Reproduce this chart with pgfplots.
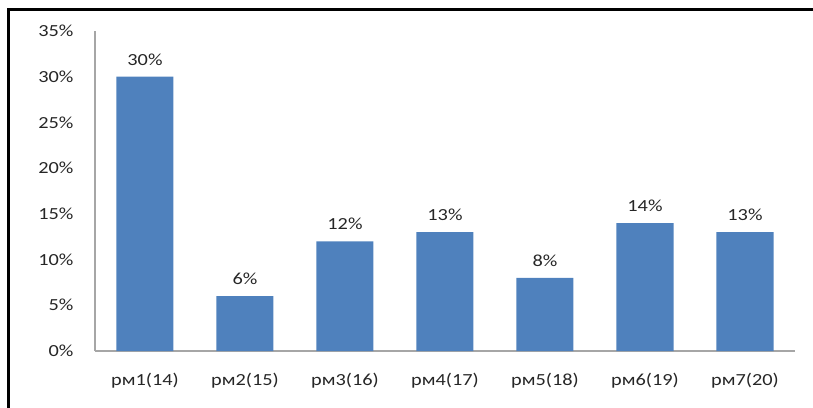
\documentclass[border=0pt]{standalone}
\usepackage{fontspec}
\setmainfont{Carlito}[FakeStretch=1.2]
\usepackage{pgfplots}
\pgfplotsset{compat=1.18}
\definecolor{barblue}{HTML}{4F81BD}
\definecolor{axisgray}{HTML}{A6A6A6}
\definecolor{inkdark}{HTML}{262626}

\begin{document}
\begin{tikzpicture}[x=1bp,y=1bp]
\useasboundingbox (-95bp,-57bp) rectangle (718bp,351bp);
\draw[line width=3bp, black] (-86bp,-60bp) -- (-86bp,341bp) -- (722bp,341bp);
\begin{axis}[
  at={(0,0)}, anchor=south west,
  scale only axis, width=700bp, height=320bp,
  ybar, bar width=57bp,
  xmin=-0.5, xmax=6.5, ymin=0, ymax=35,
  xtick={0,...,6},
  xticklabels={рм1(14), рм2(15), рм3(16), рм4(17), рм5(18), рм6(19), рм7(20)},
  ytick={0,5,...,35},
  yticklabel={\pgfmathprintnumber{\tick}\%},
  /pgf/number format/assume math mode=true,
  tick label style={font=\fontsize{17}{18}\selectfont, color=inkdark},
  xticklabel style={yshift=-19bp},
  yticklabel style={xshift=-18bp},
  axis x line*=bottom, axis y line*=left,
  axis line style={color=axisgray, line width=1.2bp},
  major tick length=0pt,
  nodes near coords={\pgfmathprintnumber{\pgfplotspointmeta}\%},
  every node near coord/.append style={font=\fontsize{17}{18}\selectfont, color=inkdark, yshift=8bp},
  clip=false,
]
\addplot[fill=barblue, draw=none] coordinates
  {(0,30) (1,6) (2,12) (3,13) (4,8) (5,14) (6,13)};
\end{axis}
\end{tikzpicture}
\end{document}
